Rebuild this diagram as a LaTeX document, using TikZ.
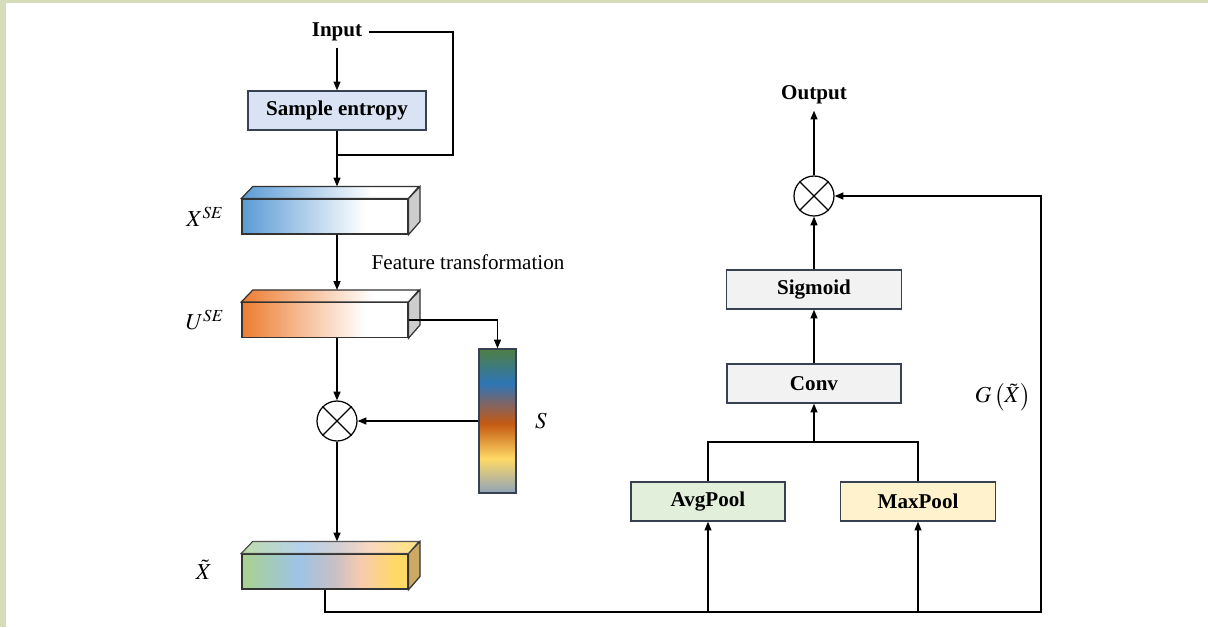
\documentclass[tikz,border=0pt]{standalone}
\usepackage{mathptmx}
\usepackage{fontspec}
\setmainfont{Liberation Serif}
\usetikzlibrary{arrows.meta,positioning}

\definecolor{frame}{RGB}{214,221,186}
\definecolor{boxline}{RGB}{55,65,82}
\definecolor{entropyfill}{RGB}{218,227,243}
\definecolor{avgfill}{RGB}{226,239,218}
\definecolor{maxfill}{RGB}{255,242,204}
\definecolor{opfill}{RGB}{242,242,242}
\definecolor{seblue}{RGB}{91,155,213}
\definecolor{seorange}{RGB}{237,125,49}
\definecolor{xgreen}{RGB}{169,209,142}
\definecolor{xblue}{RGB}{157,195,230}
\definecolor{xgrey}{RGB}{200,192,196}
\definecolor{xpeach}{RGB}{248,203,173}
\definecolor{xyellow}{RGB}{255,217,102}
\definecolor{sidegrey}{RGB}{205,205,205}
\definecolor{sidetan}{RGB}{205,170,100}
\definecolor{sgreen}{RGB}{78,127,68}
\definecolor{sblue}{RGB}{46,117,182}
\definecolor{smid}{RGB}{128,100,100}
\definecolor{sorange}{RGB}{197,90,17}
\definecolor{syellow}{RGB}{255,217,102}
\definecolor{sbottom}{RGB}{143,163,184}

\pgfdeclarehorizontalshading{xseshade}{100bp}{color(0bp)=(seblue); color(25bp)=(seblue); color(62bp)=(white); color(100bp)=(white)}
\pgfdeclarehorizontalshading{useshade}{100bp}{color(0bp)=(seorange); color(25bp)=(seorange); color(62bp)=(white); color(100bp)=(white)}
\pgfdeclarehorizontalshading{xtshade}{100bp}{color(0bp)=(xgreen); color(25bp)=(xgreen); color(42bp)=(xblue); color(53bp)=(xgrey); color(61bp)=(xpeach); color(71bp)=(xyellow); color(100bp)=(xyellow)}
\pgfdeclareverticalshading{sshade}{100bp}{color(0bp)=(sbottom); color(25bp)=(sbottom); color(37bp)=(syellow); color(49bp)=(sorange); color(56bp)=(smid); color(63bp)=(sblue); color(75bp)=(sgreen); color(100bp)=(sgreen)}

\begin{document}
\begin{tikzpicture}[x=0.02cm, y=-0.02cm,
    line width=0.7pt,
    arr/.style={-{Triangle[length=5pt,width=4pt]}},
    block/.style={draw=boxline, line width=0.8pt, minimum height=0.78cm, inner sep=0pt, font=\fontsize{12}{14}\selectfont\bfseries},
    face/.style={draw=black!80, minimum width=3.32cm, minimum height=0.70cm, inner sep=0pt},
    mult/.style={draw, circle, minimum size=0.8cm, inner sep=0pt},
    title/.style={font=\fontsize{12}{14}\selectfont\bfseries},
    lbl/.style={font=\fontsize{13}{15}\selectfont}]

    % Frame
    \fill[frame] (0,0) rectangle (1208,627);
    \fill[white] (6,3) rectangle (1208,627);

    % Left branch
    \node[title] (input) at (337,32) {Input};
    \node[block, fill=entropyfill, minimum width=3.56cm] (entropy) at (337,110.5) {Sample entropy};

    % Feature cuboids
    \node[face, shading=xseshade] (xse) at (325,216.5) {};
    \node[face, shading=useshade] (use) at (325,320) {};
    \node[face, shading=xtshade] (xt) at (325,571.5) {};
    \foreach \n/\sh/\side in {xse/xseshade/sidegrey, use/useshade/sidegrey, xt/xtshade/sidetan} {
        \shadedraw[shading=\sh, draw=black!80] (\n.north west) -- ++(11.5,-12) coordinate (\n-back)
            -- ++(166,0) -- (\n.north east) -- cycle;
        \filldraw[fill=\side, draw=black!80] (\n.north east) -- ++(11.5,-12) -- ++(0,35) -- (\n.south east) -- cycle;
    }
    \fill[white, opacity=0.25] (xt.north west) -- (xt-back) -- ++(166,0) -- (xt.north east) -- cycle;

    \node[lbl] (lxse) at (205,217) {$X^{SE}$};
    \node[lbl] (luse) at (205,320) {$U^{SE}$};
    \node[lbl] (lxt) at (204,570) {$\tilde{X}$};
    \node[font=\fontsize{12}{14}\selectfont] (feat) at (468,262) {Feature transformation};

    % Attention vector
    \node[draw=boxline, shading=sshade, minimum width=0.74cm, minimum height=2.88cm, inner sep=0pt] (sbar) at (497.5,421) {};
    \node[lbl] (ls) at (541,421) {$S$};
    \node[mult] (mulL) at (337,421) {};

    % Right branch
    \node[title] (output) at (814,95) {Output};
    \node[mult] (mulR) at (814,196) {};
    \node[block, fill=opfill, minimum width=3.5cm] (sigmoid) at (814,289.5) {Sigmoid};
    \node[block, fill=opfill, minimum width=3.48cm] (conv) at (814,383.5) {Conv};
    \node[block, fill=avgfill, minimum width=3.08cm] (avg) at (708,501.5) {AvgPool};
    \node[block, fill=maxfill, minimum width=3.1cm] (max) at (918,501.5) {MaxPool};
    \node[lbl] (lg) at (1003,397) {$G\left(\tilde{X}\right)$};

    % Crosses
    \foreach \m in {mulL, mulR} {
        \draw (\m.north west) -- (\m.south east);
        \draw (\m.north east) -- (\m.south west);
    }

    % Connectors, left
    \coordinate (skip) at (453,155);
    \draw[arr] (input) -- (entropy);
    \draw (input.east) -| (skip) -- (skip -| entropy.south);
    \draw[arr] (entropy.south) -- (entropy.south |- xse-back);
    \draw[arr] (entropy |- xse.south) -- (entropy |- use-back);
    \draw[arr] (entropy |- use.south) -- (mulL.north);
    \draw[arr] (use.east) -| (sbar.north);
    \draw[arr] (sbar.west) -- (mulL.east);
    \draw[arr] (mulL.south) -- (mulL |- xt-back);

    % Connectors, right
    \coordinate (loopR) at (1041,612);
    \coordinate (join) at (814,442);
    \draw[arr] (xt.south) |- (loopR) |- (mulR.east);
    \draw[arr] (avg.south |- loopR) -- (avg.south);
    \draw[arr] (max.south |- loopR) -- (max.south);
    \draw (avg.north) |- (join) -| (max.north);
    \draw[arr] (join) -- (conv.south);
    \draw[arr] (conv) -- (sigmoid);
    \draw[arr] (sigmoid) -- (mulR);
    \draw[arr] (mulR) -- (output);
\end{tikzpicture}
\end{document}
